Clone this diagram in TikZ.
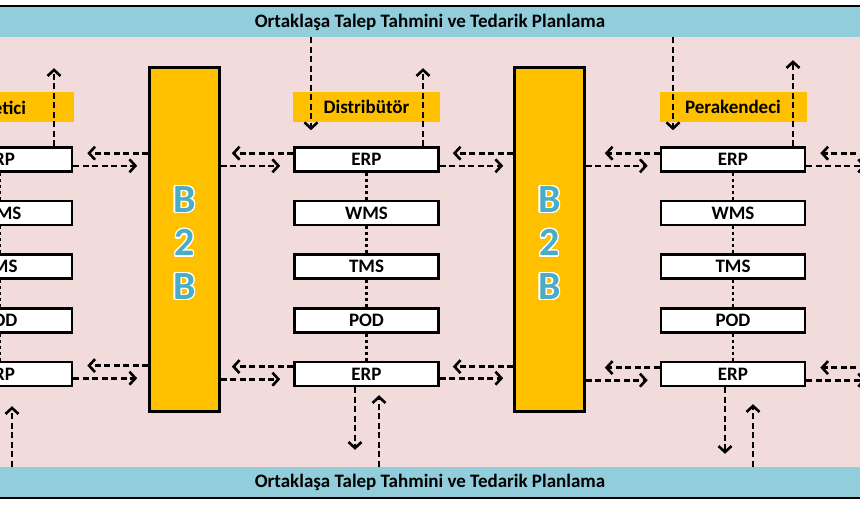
\documentclass[tikz,border=0pt]{standalone}
\usepackage{fontspec}
\setmainfont{Carlito}
\usepackage{contour}
\contourlength{1.3pt}
\usetikzlibrary{arrows.meta,positioning}

\definecolor{bgpink}{HTML}{F2DCDB}
\definecolor{bandblue}{HTML}{92CDDC}
\definecolor{baryellow}{HTML}{FFC000}
\definecolor{btext}{HTML}{4BACC6}

\tikzset{
  sysbox/.style={draw, line width=2.6pt, fill=white, minimum width=144pt, minimum height=24pt,
    inner sep=0pt, font=\fontsize{19}{22}\selectfont\bfseries},
  rolebox/.style={fill=baryellow, minimum width=147pt, minimum height=30pt, inner sep=0pt,
    font=\fontsize{19}{22}\selectfont\bfseries},
  planband/.style={fill=bandblue, minimum width=900pt, minimum height=30pt, inner sep=0pt,
    font=\fontsize{19}{22}\selectfont\bfseries},
  b2bbar/.style={draw, line width=2.6pt, fill=baryellow, minimum width=70pt, minimum height=344pt},
  b2btext/.style={text=btext, align=center, font=\fontsize{40}{43.5}\selectfont\bfseries},
  arr/.style={line width=2.6pt, dash pattern=on 6pt off 3.5pt,
    -{Straight Barb[length=6pt,width=13pt,line width=2.6pt]}},
  dotline/.style={line width=2.6pt, dash pattern=on 3pt off 3pt}
}

\begin{document}
\begin{tikzpicture}[x=1pt,y=-1pt]
  \useasboundingbox (0,0) rectangle (860,504);
  \clip (0,0) rectangle (860,504);
  \fill[white] (0,0) rectangle (860,504);
  \fill[bgpink] (-10,37) rectangle (870,467);

  % planning bands
  \node[planband] (topband) at (430,22) {Ortaklaşa Talep Tahmini ve Tedarik Planlama};
  \node[planband] (botband) at (430,482) {Ortaklaşa Talep Tahmini ve Tedarik Planlama};
  \draw[line width=2.2pt] (-10,6) rectangle (870,498);

  % B2B bars
  \node[b2bbar] (b2bL) at (184.5,239.5) {};
  \node[b2bbar] (b2bR) at (549.5,239.5) {};
  \node[b2btext] at ([yshift=-4pt]b2bL.center) {\contour{white}{B}\\\contour{white}{2}\\\contour{white}{B}};
  \node[b2btext] at ([yshift=-4pt]b2bR.center) {\contour{white}{B}\\\contour{white}{2}\\\contour{white}{B}};

  % Distributor column
  \node[sysbox] (erpD1) at (366.5,159.5) {ERP};
  \node[sysbox, below=27pt of erpD1] (wmsD) {WMS};
  \node[sysbox, below=27pt of wmsD] (tmsD) {TMS};
  \node[sysbox, below=27pt of tmsD] (podD) {POD};
  \node[sysbox, below=27pt of podD] (erpD2) {ERP};
  \node[rolebox, above=24pt of erpD1] (lblD) {Distribütör};

  % Uretici column
  \node[sysbox] (erpU1) at (0,159.5) {ERP};
  \node[sysbox, below=27pt of erpU1] (wmsU) {WMS};
  \node[sysbox, below=27pt of wmsU] (tmsU) {TMS};
  \node[sysbox, below=27pt of tmsU] (podU) {POD};
  \node[sysbox, below=27pt of podU] (erpU2) {ERP};
  \node[rolebox, above=24pt of erpU1] (lblU) {Üretici};

  % Perakendeci column
  \node[sysbox] (erpP1) at (733,159.5) {ERP};
  \node[sysbox, below=27pt of erpP1] (wmsP) {WMS};
  \node[sysbox, below=27pt of wmsP] (tmsP) {TMS};
  \node[sysbox, below=27pt of tmsP] (podP) {POD};
  \node[sysbox, below=27pt of podP] (erpP2) {ERP};
  \node[rolebox, above=24pt of erpP1] (lblP) {Perakendeci};

  % links inside columns
  \draw[dotline] (erpU1) -- (wmsU) (wmsU) -- (tmsU) (tmsU) -- (podU) (podU) -- (erpU2);
  \draw[dotline] (erpD1) -- (wmsD) (wmsD) -- (tmsD) (tmsD) -- (podD) (podD) -- (erpD2);
  \draw[dotline] (erpP1) -- (wmsP) (wmsP) -- (tmsP) (tmsP) -- (podP) (podP) -- (erpP2);

  \coordinate (offR) at (875,0);

  % top ERP row <-> B2B
  \draw[arr, shorten >=14pt] ([yshift=-7pt]erpU1.north east -| b2bL.west) -- ([yshift=-7pt]erpU1.north east);
  \draw[arr, shorten >=11pt] ([yshift=7pt]erpU1.south east) -- ([yshift=7pt]erpU1.south east -| b2bL.west);
  \draw[arr, shorten >=11pt] ([yshift=-7pt]erpD1.north west) -- ([yshift=-7pt]erpD1.north west -| b2bL.east);
  \draw[arr, shorten >=13pt] ([yshift=7pt]erpD1.south west -| b2bL.east) -- ([yshift=7pt]erpD1.south west);
  \draw[arr, shorten >=13pt] ([yshift=-7pt]erpD1.north east -| b2bR.west) -- ([yshift=-7pt]erpD1.north east);
  \draw[arr, shorten >=10pt] ([yshift=7pt]erpD1.south east) -- ([yshift=7pt]erpD1.south east -| b2bR.west);
  \draw[arr, shorten >=19pt] ([yshift=-7pt]erpP1.north west) -- ([yshift=-7pt]erpP1.north west -| b2bR.east);
  \draw[arr, shorten >=12pt] ([yshift=7pt]erpP1.south west -| b2bR.east) -- ([yshift=7pt]erpP1.south west);
  \draw[arr, shorten >=14pt] ([yshift=-7pt]erpP1.north east -| offR) -- ([yshift=-7pt]erpP1.north east);
  \draw[arr, shorten >=9pt] ([yshift=7pt]erpP1.south east) -- ([yshift=7pt]erpP1.south east -| offR);

  % bottom ERP row <-> B2B
  \draw[arr, shorten >=14pt] ([yshift=-5pt]erpU2.north east -| b2bL.west) -- ([yshift=-5pt]erpU2.north east);
  \draw[arr, shorten >=11pt] ([yshift=9pt]erpU2.south east) -- ([yshift=9pt]erpU2.south east -| b2bL.west);
  \draw[arr, shorten >=11pt] ([yshift=-6pt]erpD2.north west) -- ([yshift=-6pt]erpD2.north west -| b2bL.east);
  \draw[arr, shorten >=13pt] ([yshift=8pt]erpD2.south west -| b2bL.east) -- ([yshift=8pt]erpD2.south west);
  \draw[arr, shorten >=13pt] ([yshift=-6pt]erpD2.north east -| b2bR.west) -- ([yshift=-6pt]erpD2.north east);
  \draw[arr, shorten >=10pt] ([yshift=9pt]erpD2.south east) -- ([yshift=9pt]erpD2.south east -| b2bR.west);
  \draw[arr, shorten >=19pt] ([yshift=-7pt]erpP2.north west) -- ([yshift=-7pt]erpP2.north west -| b2bR.east);
  \draw[arr, shorten >=12pt] ([yshift=7pt]erpP2.south west -| b2bR.east) -- ([yshift=7pt]erpP2.south west);
  \draw[arr, shorten >=14pt] ([yshift=-7pt]erpP2.north east -| offR) -- ([yshift=-7pt]erpP2.north east);
  \draw[arr, shorten >=9pt] ([yshift=7pt]erpP2.south east) -- ([yshift=7pt]erpP2.south east -| offR);

  % links to the planning bands
  \draw[arr, shorten >=31pt] ([xshift=54pt]erpU1.north) -- ([xshift=54pt]erpU1.north |- topband.south);
  \draw[arr, shorten >=16pt] ([xshift=-55.5pt]erpD1.north |- topband.south) -- ([xshift=-55.5pt]erpD1.north);
  \draw[arr, shorten >=31pt] ([xshift=56.5pt]erpD1.north) -- ([xshift=56.5pt]erpD1.north |- topband.south);
  \draw[arr, shorten >=16pt] ([xshift=-60pt]erpP1.north |- topband.south) -- ([xshift=-60pt]erpP1.north);
  \draw[arr, shorten >=23pt] ([xshift=60pt]erpP1.north) -- ([xshift=60pt]erpP1.north |- topband.south);
  \draw[arr, shorten >=19pt] ([xshift=12pt]erpU2.south |- botband.north) -- ([xshift=12pt]erpU2.south);
  \draw[arr, shorten >=17pt] ([xshift=-11.5pt]erpD2.south) -- ([xshift=-11.5pt]erpD2.south |- botband.north);
  \draw[arr, shorten >=8pt] ([xshift=12.5pt]erpD2.south |- botband.north) -- ([xshift=12.5pt]erpD2.south);
  \draw[arr, shorten >=13pt] ([xshift=-8pt]erpP2.south) -- ([xshift=-8pt]erpP2.south |- botband.north);
  \draw[arr, shorten >=17pt] ([xshift=20pt]erpP2.south |- botband.north) -- ([xshift=20pt]erpP2.south);
\end{tikzpicture}
\end{document}
